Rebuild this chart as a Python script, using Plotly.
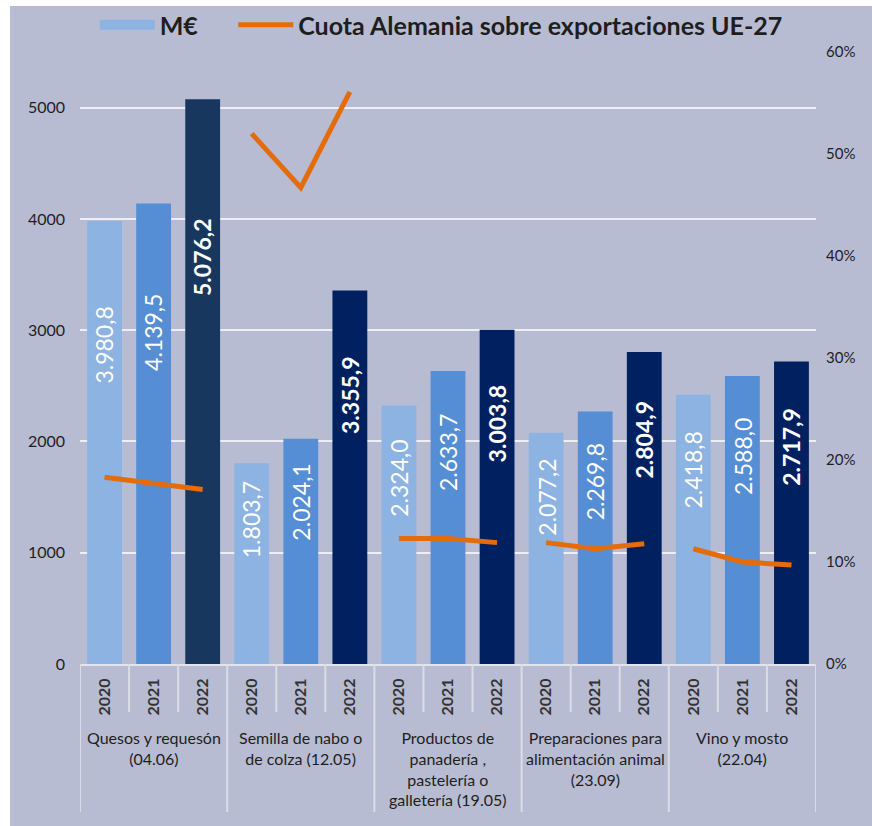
import plotly.graph_objects as go

groups = ["Quesos y requesón<br>(04.06)",
          "Semilla de nabo o<br>de colza (12.05)",
          "Productos de<br>panadería ,<br>pastelería o<br>galletería (19.05)",
          "Preparaciones para<br>alimentación animal<br>(23.09)",
          "Vino y mosto<br>(22.04)"]
years = ["2020", "2021", "2022"]

valores = [3980.8, 4139.5, 5076.2,
           1803.7, 2024.1, 3355.9,
           2324.0, 2633.7, 3003.8,
           2077.2, 2269.8, 2804.9,
           2418.8, 2588.0, 2717.9]
etiquetas = ["3.980,8", "4.139,5", "5.076,2",
             "1.803,7", "2.024,1", "3.355,9",
             "2.324,0", "2.633,7", "3.003,8",
             "2.077,2", "2.269,8", "2.804,9",
             "2.418,8", "2.588,0", "2.717,9"]
cuota = [0.183, 0.177, 0.171,
         0.520, 0.467, 0.561,
         0.123, 0.123, 0.119,
         0.119, 0.113, 0.118,
         0.113, 0.100, 0.097]

c2020 = "#8db3e2"
c2021 = "#558ed5"
c2022 = "#002060"
c2022_q = "#17375e"
orange = "#e46c0a"
bg = "#b8bcd2"
txt = "#1e1e1e"
FONT = "Lato"

n = len(valores)
xs = list(range(n))
colors = []
for i in range(n):
    y = i % 3
    if y == 0:
        colors.append(c2020)
    elif y == 1:
        colors.append(c2021)
    else:
        colors.append(c2022_q if i == 2 else c2022)

# line with breaks between groups
lx, ly = [], []
for i in range(n):
    lx.append(xs[i]); ly.append(cuota[i])
    if i % 3 == 2:
        lx.append(None); ly.append(None)

fig = go.Figure()
fig.add_trace(go.Bar(x=xs, y=valores, marker=dict(color=colors, line=dict(width=0)),
                     showlegend=False, width=0.71, hoverinfo="y"))
fig.add_trace(go.Scatter(x=[None], y=[None], mode="lines",
                         name="M€" + "\u00a0" * 5,
                         line=dict(color=c2020, width=15), showlegend=True))
fig.add_trace(go.Scatter(x=lx, y=ly, mode="lines", yaxis="y2",
                         name="Cuota Alemania sobre exportaciones UE-27",
                         line=dict(color=orange, width=5), connectgaps=False))

annotations = []
for i in range(n):
    annotations.append(dict(
        x=xs[i], y=valores[i] * 0.72, xref="x", yref="y", text=etiquetas[i],
        textangle=-90, showarrow=False,
        font=dict(family=FONT, size=23, color="white",
                  weight="bold" if i % 3 == 2 else "normal")))

PH = 612.0
for g, label in enumerate(groups):
    annotations.append(dict(
        x=g * 3 + 1, y=-(726 - 664) / PH, xref="x", yref="paper", text=label,
        showarrow=False, yanchor="top", xanchor="center", align="center",
        font=dict(family=FONT, size=16, color=txt)))

shapes = []
for k in range(n + 1):
    xb = k - 0.5
    long = (k % 3 == 0)
    shapes.append(dict(type="line", xref="x", yref="paper", x0=xb, x1=xb,
                       y0=0, y1=-(148 if long else 48) / PH,
                       line=dict(color="#dcdce6", width=2)))

# figure placed at (10, 6) in the page (white strip on top/left as in the original)
fig.update_layout(
    width=882, height=830,
    margin=dict(l=70, r=76, t=46, b=172, autoexpand=False),
    paper_bgcolor=bg, plot_bgcolor=bg,
    font=dict(family=FONT, color=txt),
    bargap=0.29,
    xaxis=dict(range=[-0.5, n - 0.5], tickmode="array", tickvals=xs,
               ticktext=[years[i % 3] for i in range(n)], tickangle=-90,
               tickfont=dict(family=FONT, size=16, color="#333333", weight="bold"),
               showgrid=False, zeroline=False, showline=True, linecolor="#e4e4ec",
               linewidth=2, ticks="", ticklabelstandoff=6, automargin=False),
    yaxis=dict(range=[0, 5500], tickvals=[0, 1000, 2000, 3000, 4000, 5000],
               showgrid=True, gridcolor="#eeeef4", gridwidth=2, zeroline=False,
               tickfont=dict(family=FONT, size=16, color=txt), ticklabelstandoff=14,
               automargin=False),
    yaxis2=dict(range=[0, 0.6], overlaying="y", side="right",
                tickvals=[0, 0.1, 0.2, 0.3, 0.4, 0.5, 0.6], tickformat=".0%",
                showgrid=False, zeroline=False, automargin=False,
                tickfont=dict(family=FONT, size=15, color=txt), ticklabelstandoff=9),
    legend=dict(orientation="h", x=0.02, xanchor="left", y=(664 - 25) / PH,
                yanchor="middle", itemwidth=55, bgcolor="rgba(0,0,0,0)",
                font=dict(family=FONT, size=25, color=txt, weight="bold"),
                traceorder="normal"),
    annotations=annotations, shapes=shapes,
)

page_js = ("document.documentElement.style.overflow='hidden';"
           "document.body.style.overflow='hidden';"
           "document.body.style.margin='6px 0 0 10px';")

fig.write_html("out.html", post_script=page_js)
